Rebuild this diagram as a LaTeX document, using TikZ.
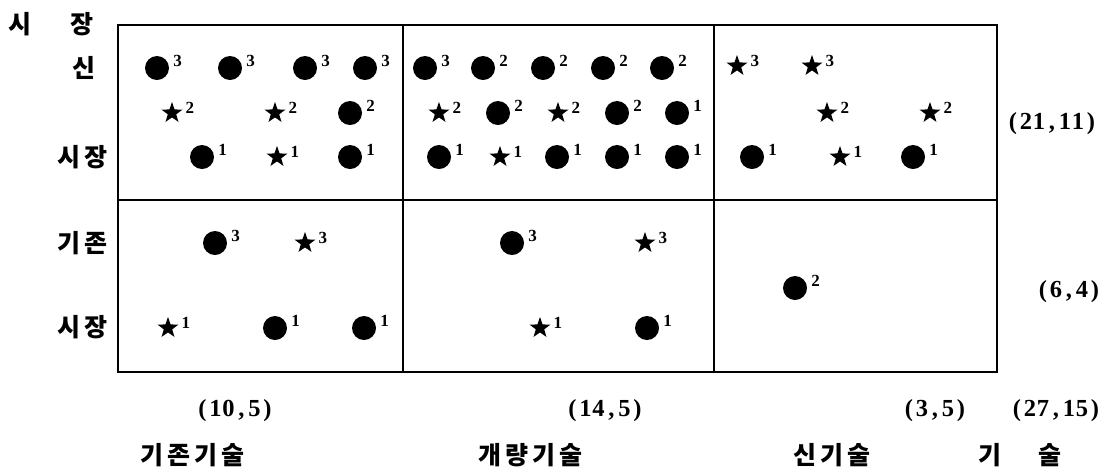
\documentclass[tikz,border=0pt]{standalone}
\usepackage{fontspec}
\usetikzlibrary{shapes.geometric}
\newfontfamily\krf{Noto Sans CJK KR}
\newfontfamily\numf{Liberation Serif}
\newfontfamily\supf{Liberation Serif}
\newcommand\mb[1]{\makebox[13pt]{#1}}
\newcommand\ksp{\hspace{4pt}}
\tikzset{
  gridline/.style={line width=1.6pt},
  dotnode/.style={circle, fill=black, inner sep=0pt, minimum size=24pt},
  starnode/.style={star, star points=5, star point ratio=2.5, fill=black, inner sep=0pt, minimum size=22pt},
  supnode/.style={font=\supf\bfseries\fontsize{17}{17}\selectfont, inner sep=0pt, anchor=west},
  krlab/.style={font=\krf\bfseries\fontsize{25}{25}\selectfont, inner sep=0pt},
  numlab/.style={font=\numf\bfseries\fontsize{24.5}{24.5}\selectfont, inner sep=0pt},
}
\newcommand\MDot[4]{\node[dotnode] (#1) at (#2,#3) {}; \node[supnode] (#1s) at ([xshift=4pt,yshift=7pt]#1.east) {#4};}
\newcommand\MStar[4]{\node[starnode] (#1) at (#2,#3) {}; \node[supnode] (#1s) at ([xshift=7pt,yshift=5pt]#1.east) {#4};}
\begin{document}
\begin{tikzpicture}[x=1pt,y=-1pt]
\useasboundingbox (0,0) rectangle (1113,475);
% grid
\draw[gridline] (118,25) rectangle (997,372);
\draw[gridline] (403,25) -- (403,372);
\draw[gridline] (714,25) -- (714,372);
\draw[gridline] (118,200) -- (997,200);
% left labels
\node[krlab] (lsi) at (20,24) {시};
\node[krlab] (ljang) at (82,24) {장};
\node[krlab] (lsin) at (84,68) {신};
\node[krlab] (lsj1) at (82,157) {시\ksp 장};
\node[krlab] (lgj) at (82,243) {기\ksp 존};
\node[krlab] (lsj2) at (82,327) {시\ksp 장};
% top-left cell
\MDot{a1}{157}{68}{3}
\MDot{a2}{230}{68}{3}
\MDot{a3}{305}{68}{3}
\MDot{a4}{365}{68}{3}
\MStar{a5}{172}{113}{2}
\MStar{a6}{275}{113}{2}
\MDot{a7}{350}{113}{2}
\MDot{a8}{202}{157}{1}
\MStar{a9}{277}{157}{1}
\MDot{a10}{350}{157}{1}
% top-middle cell
\MDot{b1}{425}{68}{3}
\MDot{b2}{483}{68}{2}
\MDot{b3}{543}{68}{2}
\MDot{b4}{603}{68}{2}
\MDot{b5}{662}{68}{2}
\MStar{b6}{439}{113}{2}
\MDot{b7}{498}{113}{2}
\MStar{b8}{558}{113}{2}
\MDot{b9}{617}{113}{2}
\MDot{b10}{677}{113}{1}
\MDot{b11}{439}{157}{1}
\MStar{b12}{500}{157}{1}
\MDot{b13}{557}{157}{1}
\MDot{b14}{617}{157}{1}
\MDot{b15}{677}{157}{1}
% top-right cell
\MStar{c1}{737}{66}{3}
\MStar{c2}{812}{66}{3}
\MStar{c3}{827}{113}{2}
\MStar{c4}{930}{113}{2}
\MDot{c5}{752}{157}{1}
\MStar{c6}{840}{157}{1}
\MDot{c7}{913}{157}{1}
% bottom-left cell
\MDot{d1}{215}{243}{3}
\MStar{d2}{305}{243}{3}
\MStar{d3}{168}{328}{1}
\MDot{d4}{275}{328}{1}
\MDot{d5}{364}{328}{1}
% bottom-middle cell
\MDot{e1}{512}{243}{3}
\MStar{e2}{645}{243}{3}
\MStar{e3}{540}{328}{1}
\MDot{e4}{647}{328}{1}
% bottom-right cell
\MDot{f1}{795}{288}{2}
% right labels
\node[numlab] (r1) at (1052,124) {\mb{(}\mb{2}\mb{1}\mb{,}\mb{1}\mb{1}\mb{)}};
\node[numlab] (r2) at (1069,292) {\mb{(}\mb{6}\mb{,}\mb{4}\mb{)}};
% bottom labels
\node[numlab] (n1) at (235,411) {\mb{(}\mb{1}\mb{0}\mb{,}\mb{5}\mb{)}};
\node[numlab] (n2) at (605,411) {\mb{(}\mb{1}\mb{4}\mb{,}\mb{5}\mb{)}};
\node[numlab] (n3) at (935,411) {\mb{(}\mb{3}\mb{,}\mb{5}\mb{)}};
\node[numlab] (n4) at (1056,411) {\mb{(}\mb{2}\mb{7}\mb{,}\mb{1}\mb{5}\mb{)}};
\node[krlab] (k1) at (192,455) {기\ksp 존\ksp 기\ksp 술};
\node[krlab] (k2) at (530,455) {개\ksp 량\ksp 기\ksp 술};
\node[krlab] (k3) at (832,455) {신\ksp 기\ksp 술};
\node[krlab] (k4) at (990,455) {기};
\node[krlab] (k5) at (1050,455) {술};
\end{tikzpicture}
\end{document}
